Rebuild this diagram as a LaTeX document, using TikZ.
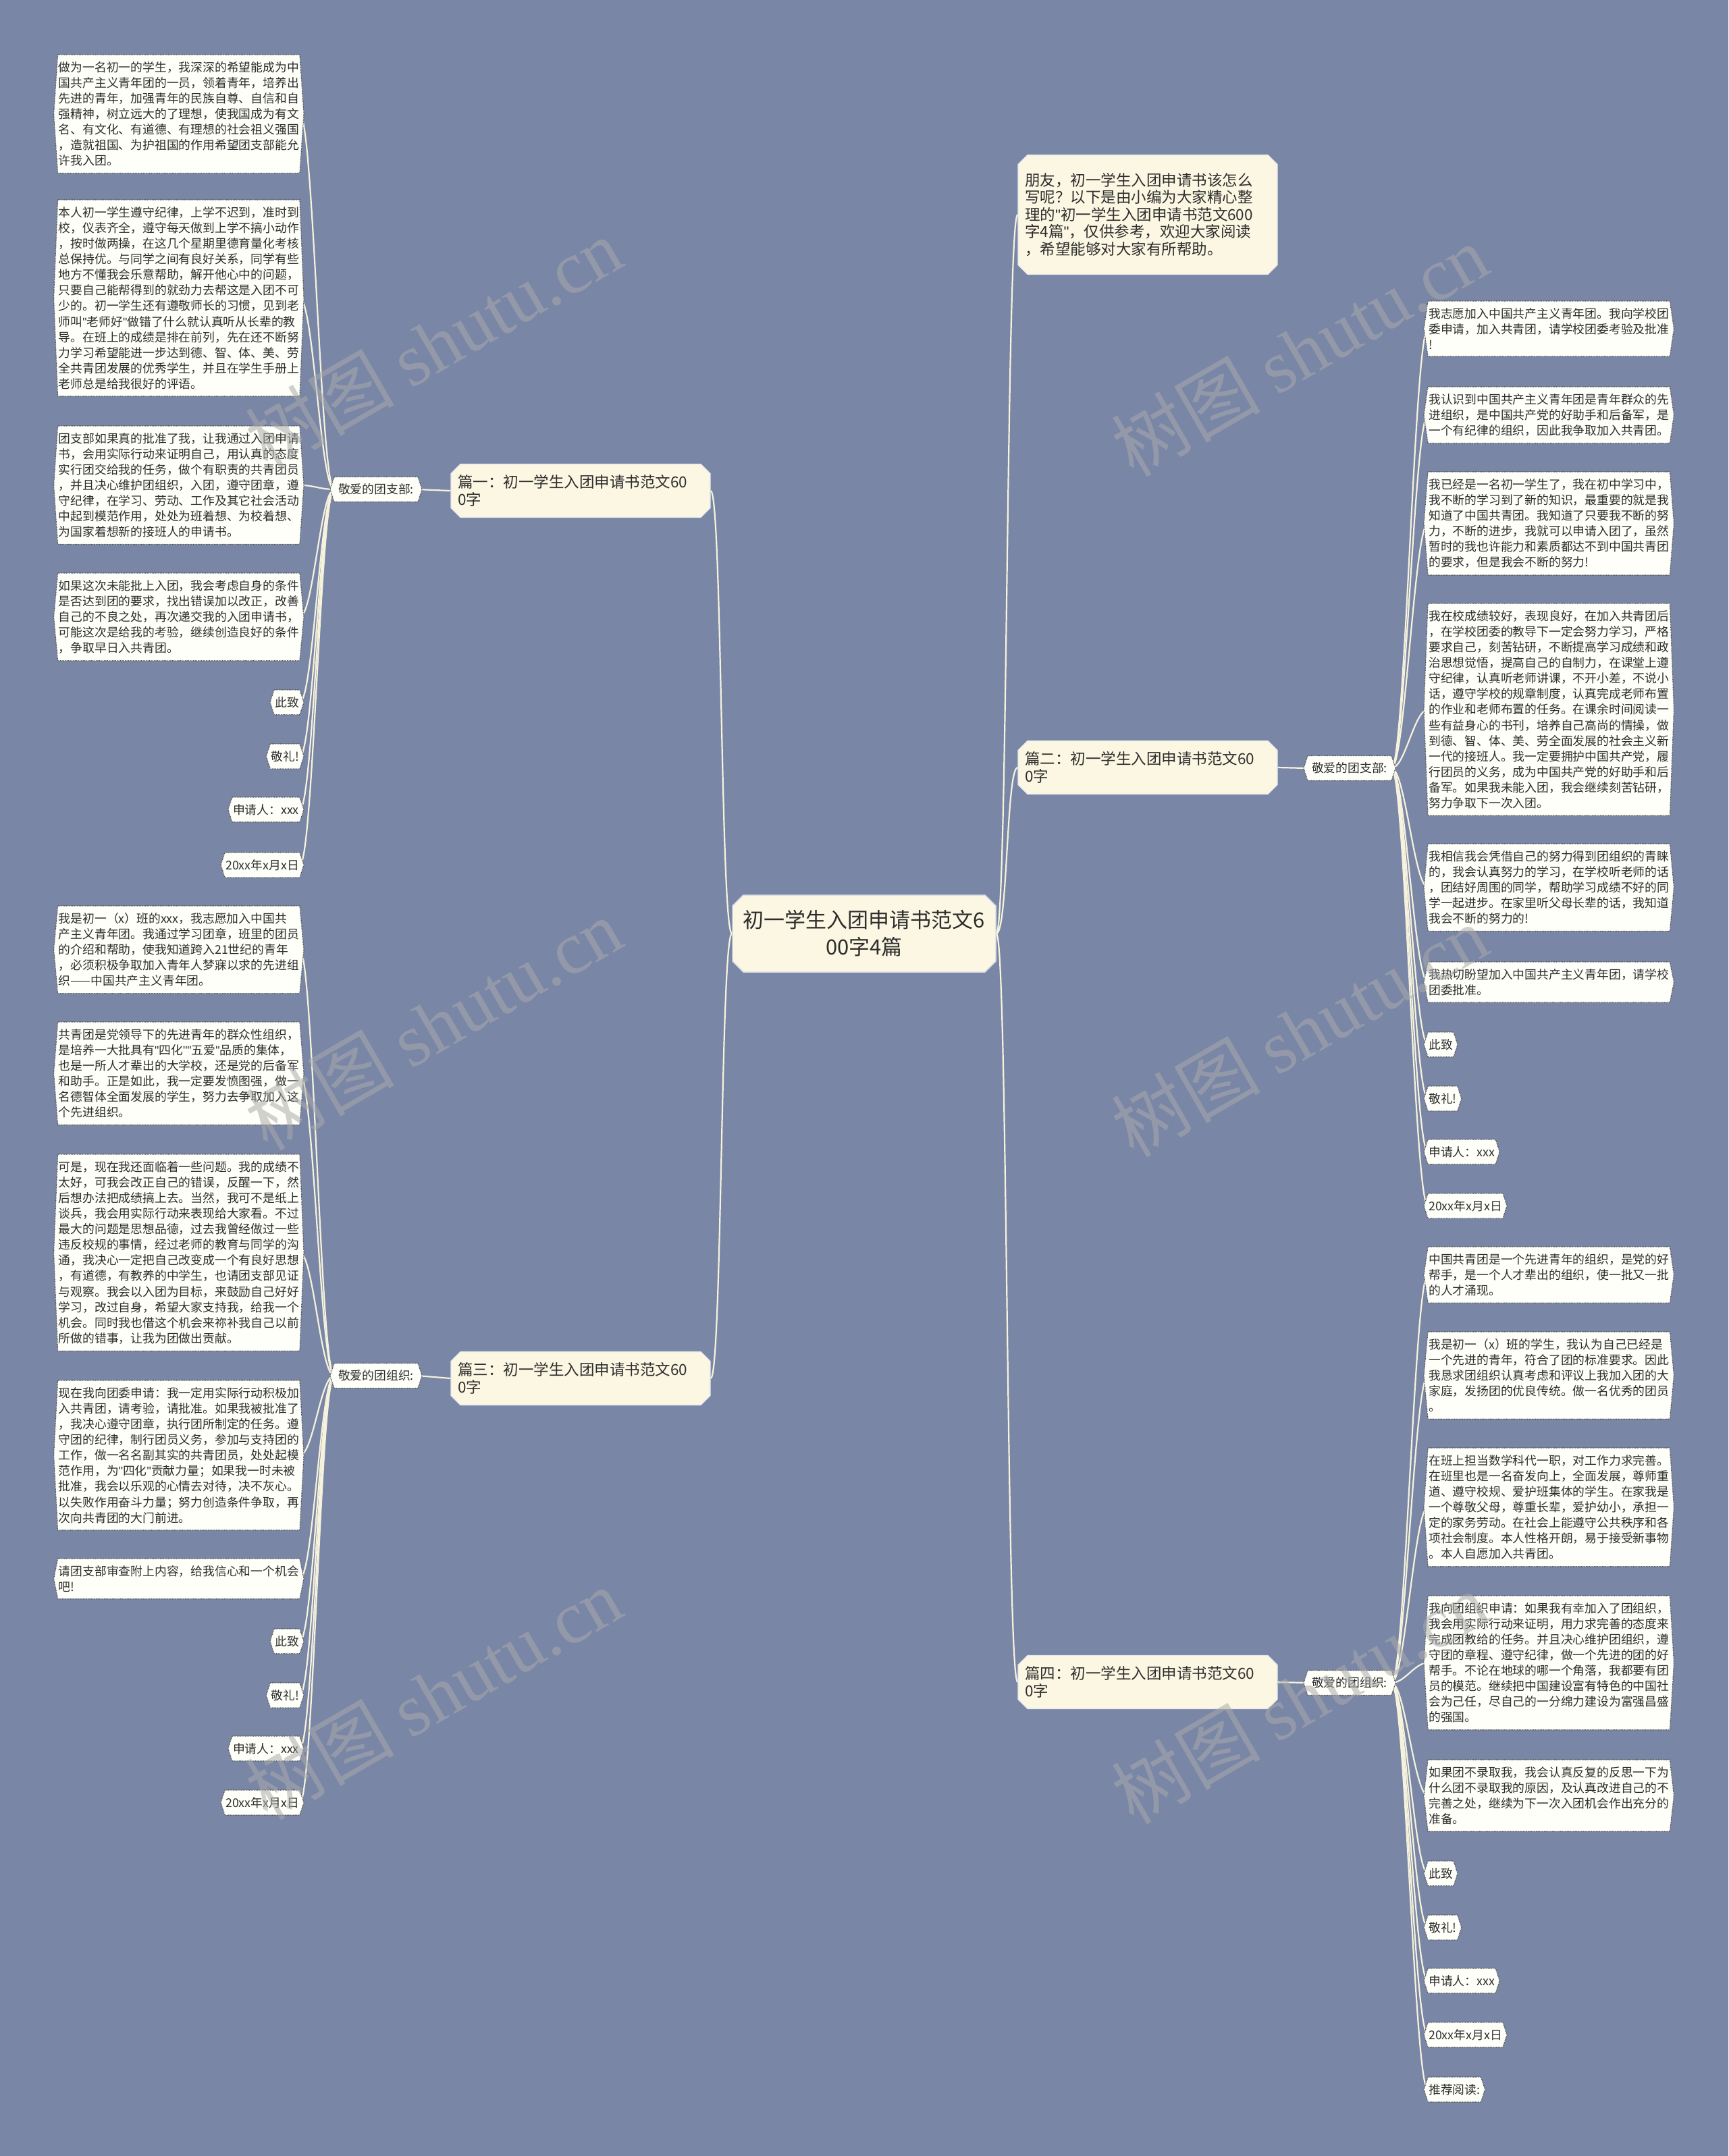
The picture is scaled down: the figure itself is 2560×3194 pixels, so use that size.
\documentclass[tikz,border=0pt]{standalone}
\usepackage{fontspec}
\setmainfont{Noto Sans CJK SC}
\newfontfamily\wmlatin{Liberation Serif}
\newfontfamily\quotefont{Liberation Sans}
\newcommand\qq{{\quotefont "}}
\usepackage{tikz}
\usetikzlibrary{positioning, shapes.misc, backgrounds}

\definecolor{bgblue}{RGB}{121,134,166}
\definecolor{leafwhite}{RGB}{255,255,249}
\definecolor{branchcream}{RGB}{251,247,226}
\definecolor{linkcream}{RGB}{246,242,220}
\definecolor{inkgray}{RGB}{45,45,45}
\definecolor{markgray}{RGB}{170,170,170}

\newcommand\leaffont{\fontsize{17.8pt}{23.1pt}\selectfont}
\newcommand\branchfont{\fontsize{22.5pt}{25.5pt}\selectfont}
\newcommand\rootfont{\fontsize{31pt}{40pt}\selectfont}

\tikzset{
  leaf/.style={font=\leaffont, text=inkgray, inner xsep=1pt, inner ysep=10pt, align=left},
  bigleaf/.style={leaf, text width=356pt},
  greet/.style={leaf, inner xsep=6pt},
  branch/.style={chamfered rectangle, chamfered rectangle xsep=7pt, chamfered rectangle ysep=7pt,
    draw=white!80!bgblue, line width=1.2pt, fill=branchcream, font=\branchfont, text=inkgray,
    text width=364pt, align=left, inner xsep=3pt, minimum height=79pt},
  rootnode/.style={chamfered rectangle, chamfered rectangle xsep=8pt, chamfered rectangle ysep=8pt,
    draw=white!70!bgblue, line width=1.5pt, fill=branchcream, font=\rootfont, text=inkgray,
    align=center, minimum width=390pt, minimum height=114pt},
  link/.style={draw=linkcream, line width=2.2pt},
  leafline/.style={draw=black!70, line width=1.2pt, dash pattern=on 1.2pt off 1.2pt, fill=leafwhite},
  wmark/.style={text=markgray, opacity=0.55, font=\fontsize{110pt}{110pt}\selectfont, rotate=30}
}

\begin{document}
\begin{tikzpicture}[x=1pt, y=-1pt]
  \useasboundingbox (0,0) rectangle (2560,3194);
  \begin{scope}[on background layer]
    \fill[bgblue] (0,0) rectangle (2560,3194);
  \end{scope}

  % Nodo centrale e rami
  \node[rootnode] (root) at (1280,1383) {初一学生入团申请书范文6\\00字4篇};
  \node[branch, minimum height=177pt] (intro) at (1700,318) {朋友，初一学生入团申请书该怎么\\写呢？以下是由小编为大家精心整\\理的\qq 初一学生入团申请书范文600\\字4篇\qq ，仅供参考，欢迎大家阅读\\，希望能够对大家有所帮助。};
  \node[branch] (p1) at (860,727) {篇一：初一学生入团申请书范文60\\0字};
  \node[branch] (p2) at (1700,1137) {篇二：初一学生入团申请书范文60\\0字};
  \node[branch] (p3) at (860,2042) {篇三：初一学生入团申请书范文60\\0字};
  \node[branch] (p4) at (1700,2492) {篇四：初一学生入团申请书范文60\\0字};

  \node[greet] (k1) at (557,725) {敬爱的团支部:};
  \node[greet] (k2) at (1999,1138) {敬爱的团支部:};
  \node[greet] (k3) at (557,2038) {敬爱的团组织:};
  \node[greet] (k4) at (1999,2493) {敬爱的团组织:};

  % Foglie - 篇一
  \node[bigleaf, anchor=north east] (a1) at (444,81) {做为一名初一的学生，我深深的希望能成为中\\国共产主义青年团的一员，领着青年，培养出\\先进的青年，加强青年的民族自尊、自信和自\\强精神，树立远大的了理想，使我国成为有文\\名、有文化、有道德、有理想的社会祖义强国\\，造就祖国、为护祖国的作用希望团支部能允\\许我入团。};
  \node[bigleaf, anchor=north east] (a2) at (444,296) {本人初一学生遵守纪律，上学不迟到，准时到\\校，仪表齐全，遵守每天做到上学不搞小动作\\，按时做两操，在这几个星期里德育量化考核\\总保持优。与同学之间有良好关系，同学有些\\地方不懂我会乐意帮助，解开他心中的问题，\\只要自己能帮得到的就劲力去帮这是入团不可\\少的。初一学生还有遵敬师长的习惯，见到老\\师叫\qq 老师好\qq 做错了什么就认真听从长辈的教\\导。在班上的成绩是排在前列，先在还不断努\\力学习希望能进一步达到德、智、体、美、劳\\全共青团发展的优秀学生，并且在学生手册上\\老师总是给我很好的评语。};
  \node[bigleaf, anchor=north east] (a3) at (444,631) {团支部如果真的批准了我，让我通过入团申请\\书，会用实际行动来证明自己，用认真的态度\\实行团交给我的任务，做个有职责的共青团员\\，并且决心维护团组织，入团，遵守团章，遵\\守纪律，在学习、劳动、工作及其它社会活动\\中起到模范作用，处处为班着想、为校着想、\\为国家着想新的接班人的申请书。};
  \node[bigleaf, anchor=north east] (a4) at (444,849) {如果这次未能批上入团，我会考虑自身的条件\\是否达到团的要求，找出错误加以改正，改善\\自己的不良之处，再次递交我的入团申请书，\\可能这次是给我的考验，继续创造良好的条件\\，争取早日入共青团。};
  \node[leaf, anchor=north east] (a5) at (444,1022) {此致};
  \node[leaf, anchor=north east] (a6) at (444,1102) {敬礼!};
  \node[leaf, anchor=north east] (a7) at (444,1181) {申请人：xxx};
  \node[leaf, anchor=north east] (a8) at (444,1263) {20xx年x月x日};

  % Foglie - 篇三
  \node[bigleaf, anchor=north east] (c1) at (444,1342) {我是初一（x）班的xxx，我志愿加入中国共\\产主义青年团。我通过学习团章，班里的团员\\的介绍和帮助，使我知道跨入21世纪的青年\\，必须积极争取加入青年人梦寐以求的先进组\\织——中国共产主义青年团。};
  \node[bigleaf, anchor=north east] (c2) at (444,1514) {共青团是党领导下的先进青年的群众性组织，\\是培养一大批具有\qq 四化\qq\qq 五爱\qq 品质的集体，\\也是一所人才辈出的大学校，还是党的后备军\\和助手。正是如此，我一定要发愤图强，做一\\名德智体全面发展的学生，努力去争取加入这\\个先进组织。};
  \node[bigleaf, anchor=north east] (c3) at (444,1710) {可是，现在我还面临着一些问题。我的成绩不\\太好，可我会改正自己的错误，反醒一下，然\\后想办法把成绩搞上去。当然，我可不是纸上\\谈兵，我会用实际行动来表现给大家看。不过\\最大的问题是思想品德，过去我曾经做过一些\\违反校规的事情，经过老师的教育与同学的沟\\通，我决心一定把自己改变成一个有良好思想\\，有道德，有教养的中学生，也请团支部见证\\与观察。我会以入团为目标，来鼓励自己好好\\学习，改过自身，希望大家支持我，给我一个\\机会。同时我也借这个机会来祢补我自己以前\\所做的错事，让我为团做出贡献。};
  \node[bigleaf, anchor=north east] (c4) at (444,2045) {现在我向团委申请：我一定用实际行动积极加\\入共青团，请考验，请批准。如果我被批准了\\，我决心遵守团章，执行团所制定的任务。遵\\守团的纪律，制行团员义务，参加与支持团的\\工作，做一名名副其实的共青团员，处处起模\\范作用，为\qq 四化\qq 贡献力量；如果我一时未被\\批准，我会以乐观的心情去对待，决不灰心。\\以失败作用奋斗力量；努力创造条件争取，再\\次向共青团的大门前进。};
  \node[bigleaf, anchor=north east] (c5) at (444,2309) {请团支部审查附上内容，给我信心和一个机会\\吧!};
  \node[leaf, anchor=north east] (c6) at (444,2413) {此致};
  \node[leaf, anchor=north east] (c7) at (444,2493) {敬礼!};
  \node[leaf, anchor=north east] (c8) at (444,2572) {申请人：xxx};
  \node[leaf, anchor=north east] (c9) at (444,2652) {20xx年x月x日};

  % Foglie - 篇二
  \node[bigleaf, anchor=north west] (b1) at (2115,446) {我志愿加入中国共产主义青年团。我向学校团\\委申请，加入共青团，请学校团委考验及批准\\!};
  \node[bigleaf, anchor=north west] (b2) at (2115,573) {我认识到中国共产主义青年团是青年群众的先\\进组织，是中国共产党的好助手和后备军，是\\一个有纪律的组织，因此我争取加入共青团。};
  \node[bigleaf, anchor=north west] (b3) at (2115,699) {我已经是一名初一学生了，我在初中学习中，\\我不断的学习到了新的知识，最重要的就是我\\知道了中国共青团。我知道了只要我不断的努\\力，不断的进步，我就可以申请入团了，虽然\\暂时的我也许能力和素质都达不到中国共青团\\的要求，但是我会不断的努力!};
  \node[bigleaf, anchor=north west] (b4) at (2115,894) {我在校成绩较好，表现良好，在加入共青团后\\，在学校团委的教导下一定会努力学习，严格\\要求自己，刻苦钻研，不断提高学习成绩和政\\治思想觉悟，提高自己的自制力，在课堂上遵\\守纪律，认真听老师讲课，不开小差，不说小\\话，遵守学校的规章制度，认真完成老师布置\\的作业和老师布置的任务。在课余时间阅读一\\些有益身心的书刊，培养自己高尚的情操，做\\到德、智、体、美、劳全面发展的社会主义新\\一代的接班人。我一定要拥护中国共产党，履\\行团员的义务，成为中国共产党的好助手和后\\备军。如果我未能入团，我会继续刻苦钻研，\\努力争取下一次入团。};
  \node[bigleaf, anchor=north west] (b5) at (2115,1250) {我相信我会凭借自己的努力得到团组织的青睐\\的，我会认真努力的学习，在学校听老师的话\\，团结好周围的同学，帮助学习成绩不好的同\\学一起进步。在家里听父母长辈的话，我知道\\我会不断的努力的!};
  \node[bigleaf, anchor=north west] (b6) at (2115,1425) {我热切盼望加入中国共产主义青年团，请学校\\团委批准。};
  \node[leaf, anchor=north west] (b7) at (2115,1529) {此致};
  \node[leaf, anchor=north west] (b8) at (2115,1609) {敬礼!};
  \node[leaf, anchor=north west] (b9) at (2115,1688) {申请人：xxx};
  \node[leaf, anchor=north west] (b10) at (2115,1768) {20xx年x月x日};

  % Foglie - 篇四
  \node[bigleaf, anchor=north west] (d1) at (2115,1847) {中国共青团是一个先进青年的组织，是党的好\\帮手，是一个人才辈出的组织，使一批又一批\\的人才涌现。};
  \node[bigleaf, anchor=north west] (d2) at (2115,1973) {我是初一（x）班的学生，我认为自己已经是\\一个先进的青年，符合了团的标准要求。因此\\我恳求团组织认真考虑和评议上我加入团的大\\家庭，发扬团的优良传统。做一名优秀的团员\\。};
  \node[bigleaf, anchor=north west] (d3) at (2115,2145) {在班上担当数学科代一职，对工作力求完善。\\在班里也是一名奋发向上，全面发展，尊师重\\道、遵守校规、爱护班集体的学生。在家我是\\一个尊敬父母，尊重长辈，爱护幼小，承担一\\定的家务劳动。在社会上能遵守公共秩序和各\\项社会制度。本人性格开朗，易于接受新事物\\。本人自愿加入共青团。};
  \node[bigleaf, anchor=north west] (d4) at (2115,2364) {我向团组织申请：如果我有幸加入了团组织，\\我会用实际行动来证明，用力求完善的态度来\\完成团教给的任务。并且决心维护团组织，遵\\守团的章程、遵守纪律，做一个先进的团的好\\帮手。不论在地球的哪一个角落，我都要有团\\员的模范。继续把中国建设富有特色的中国社\\会为己任，尽自己的一分绵力建设为富强昌盛\\的强国。};
  \node[bigleaf, anchor=north west] (d5) at (2115,2607) {如果团不录取我，我会认真反复的反思一下为\\什么团不录取我的原因，及认真改进自己的不\\完善之处，继续为下一次入团机会作出充分的\\准备。};
  \node[leaf, anchor=north west] (d6) at (2115,2757) {此致};
  \node[leaf, anchor=north west] (d7) at (2115,2837) {敬礼!};
  \node[leaf, anchor=north west] (d8) at (2115,2916) {申请人：xxx};
  \node[leaf, anchor=north west] (d9) at (2115,2996) {20xx年x月x日};
  \node[leaf, anchor=north west] (d10) at (2115,3077) {推荐阅读:};

  \begin{scope}[on background layer]
    % Collegamenti
    \foreach \n in {p1,p3}
      \draw[link] (root.west) .. controls +(-17,0) and +(17,0) .. (\n.east);
    \foreach \n in {intro,p2,p4}
      \draw[link] (root.east) .. controls +(17,0) and +(-17,0) .. (\n.west);
    \draw[link] (p1.west) -- (k1.east);
    \draw[link] (p3.west) -- (k3.east);
    \draw[link] (p2.east) -- (k2.west);
    \draw[link] (p4.east) -- (k4.west);
    \foreach \i in {1,...,8}
      \draw[link] (k1.west) .. controls +(-20,0) and +(20,0) .. (a\i.east);
    \foreach \i in {1,...,9}
      \draw[link] (k3.west) .. controls +(-20,0) and +(20,0) .. (c\i.east);
    \foreach \i in {1,...,10}
      \draw[link] (k2.east) .. controls +(20,0) and +(-20,0) .. (b\i.west);
    \foreach \i in {1,...,10}
      \draw[link] (k4.east) .. controls +(20,0) and +(-20,0) .. (d\i.west);

    % Contorni delle foglie
    \foreach \g/\k in {a/8, b/10, c/9, d/10, k/4}
      \foreach \i in {1,...,\k}
        \draw[leafline] (\g\i.north west) -- (\g\i.north east) -- ([xshift=6pt]\g\i.east)
          -- (\g\i.south east) -- (\g\i.south west) -- ([xshift=-6pt]\g\i.west) -- cycle;
  \end{scope}

  % Filigrana
  \foreach \x/\y [count=\w] in {642/509, 642/1517, 642/2509, 1925/519, 1925/1527, 1925/2515}
    \node[wmark] (wm\w) at (\x,\y) {树图 {\wmlatin shutu.cn}};
\end{tikzpicture}
\end{document}
